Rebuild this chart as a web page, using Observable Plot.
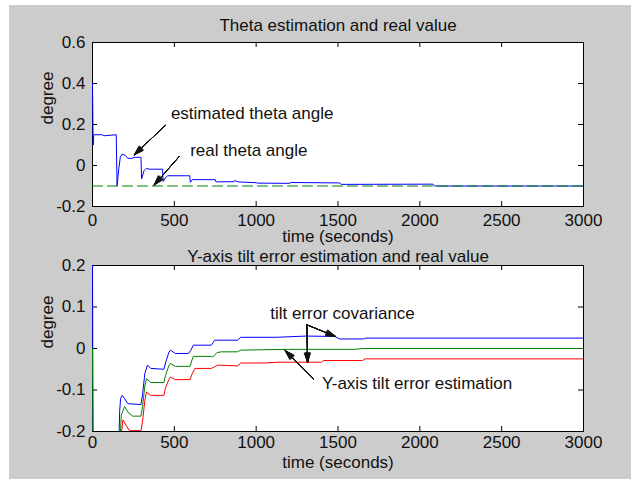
<!DOCTYPE html>
<html>
<head>
<meta charset="utf-8">
<script src="https://cdn.jsdelivr.net/npm/d3@7"></script>
<script src="https://cdn.jsdelivr.net/npm/@observablehq/plot@0.6"></script>
<style>
  html, body { margin: 0; padding: 0; background: #ffffff; }
  #figure { position: relative; width: 631px; height: 479px; background: #ffffff; overflow: hidden; }
  #panel { position: absolute; left: 9px; top: 5px; width: 622px; height: 474px; background: #cccccc; }
  .ax { position: absolute; left: 0; }
  .ax svg { overflow: visible; }
</style>
</head>
<body>
<div id="figure">
  <div id="panel"></div>
  <div id="top" class="ax" style="top:0px"></div>
  <div id="bottom" class="ax" style="top:235px"></div>
</div>
<script>
// ---- axis ticks ----
const timeTicks = [0, 500, 1000, 1500, 2000, 2500, 3000];
const thetaTicks = [-0.2, 0, 0.2, 0.4, 0.6];
const tiltTicks = [-0.2, -0.1, 0, 0.1, 0.2];

// ---- theta: estimate (solid) and true value (dashed) ----
const thetaEstTime = [0, 4, 8, 60, 70, 145, 150, 160, 170, 180, 200, 215, 240, 260, 296, 300, 315, 330, 345, 428, 432, 445, 460, 594, 598, 610, 750, 755, 860, 870, 890, 1000, 1010, 1200, 1215, 1510, 1520, 2080, 2090, 3000];
const thetaEstDeg  = [0.40, 0.10, 0.15, 0.15, 0.145, 0.15, -0.10, -0.02, 0.04, 0.055, 0.05, 0.035, 0.035, 0.04, 0.04, -0.065, -0.025, -0.013, -0.018, -0.018, -0.078, -0.06, -0.05, -0.05, -0.082, -0.069, -0.069, -0.08, -0.079, -0.074, -0.08, -0.084, -0.086, -0.087, -0.083, -0.085, -0.092, -0.091, -0.10, -0.10];
const thetaRealTime = [0, 3000];
const thetaRealDeg  = [-0.1, -0.1];

// ---- Y-axis tilt error: estimate and covariance bounds ----
const covUpperTime = [0, 3, 160, 166, 172, 182, 195, 216, 296, 306, 320, 336, 356, 436, 446, 466, 476, 506, 586, 600, 616, 726, 746, 886, 906, 1126, 1305, 1480, 1510, 1655, 1670, 3000];
const covUpperDeg  = [0.25, -0.25, -0.25, -0.15, -0.12, -0.113, -0.12, -0.133, -0.135, -0.11, -0.06, -0.04, -0.048, -0.05, -0.035, -0.01, -0.004, -0.012, -0.012, -0.005, 0.008, 0.008, 0.02, 0.02, 0.027, 0.027, 0.03, 0.029, 0.023, 0.023, 0.025, 0.025];

const tiltEstTime = [0, 3, 165, 176, 196, 220, 246, 296, 306, 320, 330, 356, 436, 446, 466, 476, 506, 596, 606, 616, 726, 736, 760, 786, 886, 906, 1046, 1200, 1600, 1655, 3000];
const tiltEstDeg  = [0.0, -0.25, -0.25, -0.16, -0.14, -0.155, -0.163, -0.163, -0.14, -0.09, -0.073, -0.082, -0.082, -0.065, -0.042, -0.036, -0.043, -0.043, -0.03, -0.019, -0.019, -0.02, -0.01, -0.008, -0.008, -0.004, -0.003, -0.002, -0.002, 0.0, 0.0];

const covLowerTime = [0, 170, 178, 186, 205, 226, 296, 306, 320, 330, 356, 436, 446, 466, 476, 506, 596, 610, 626, 726, 746, 766, 886, 906, 1046, 1140, 1400, 1410, 1650, 1665, 3000];
const covLowerDeg  = [-0.25, -0.25, -0.2, -0.172, -0.185, -0.198, -0.198, -0.175, -0.125, -0.105, -0.113, -0.113, -0.095, -0.075, -0.069, -0.075, -0.075, -0.06, -0.048, -0.048, -0.044, -0.04, -0.042, -0.035, -0.035, -0.033, -0.033, -0.029, -0.029, -0.025, -0.025];

const zip = (ts, vs) => ts.map((t, i) => ({t, v: vs[i]}));
const fmt = d => (d === 0 ? "0" : String(d));

const W = 631;
const textStyle = {
  fontFamily: "'Liberation Sans', Arial, Helvetica, sans-serif",
  fontSize: "17px",
  color: "#111111",
  background: "transparent",
  overflow: "visible"
};

// Arrow with a solid-looking head: a fan of thin arrowheads
function pointer(a) {
  return [6, 12, 18, 24, 30, 36].map(angle =>
    Plot.arrow([a], {x1: "x1", y1: "y1", x2: "x2", y2: "y2", stroke: "#111", strokeWidth: 1, headLength: 15, headAngle: angle})
  );
}

// Inward MATLAB-style ticks on all four sides
function boxTicks(xt, yt, fw, fh) {
  const len = 5;
  return [
    Plot.tickX(xt, {x: d => d, insetTop: fh - len, stroke: "#000"}),
    Plot.tickX(xt, {x: d => d, insetBottom: fh - len, stroke: "#000"}),
    Plot.tickY(yt, {y: d => d, insetRight: fw - len, stroke: "#000"}),
    Plot.tickY(yt, {y: d => d, insetLeft: fw - len, stroke: "#000"})
  ];
}

function axes(title, titleDy, xlabelDy) {
  return [
    Plot.text([title], {text: d => d, frameAnchor: "top", dy: titleDy, fill: "#111"}),
    Plot.text(["time (seconds)"], {text: d => d, frameAnchor: "bottom", dy: xlabelDy, fill: "#111"}),
    Plot.text(["degree"], {text: d => d, frameAnchor: "left", dx: -45, rotate: -90, fill: "#111"})
  ];
}

// ---- upper panel ----
{
  const mL = 92, mR = 48, mT = 42, mB = 29, H = 235;
  const fw = W - mL - mR, fh = H - mT - mB;
  const chart = Plot.plot({
    width: W, height: H,
    marginLeft: mL, marginRight: mR, marginTop: mT, marginBottom: mB,
    style: textStyle,
    x: {domain: [0, 3000], ticks: timeTicks, tickFormat: fmt, tickSize: 0, tickPadding: 7, label: null},
    y: {domain: [-0.2, 0.6], ticks: thetaTicks, tickFormat: fmt, tickSize: 0, tickPadding: 7, label: null},
    marks: [
      Plot.frame({fill: "#ffffff", stroke: "#000"}),
      ...boxTicks(timeTicks, thetaTicks, fw, fh),
      Plot.line(zip(thetaEstTime, thetaEstDeg), {x: "t", y: "v", stroke: "#0000ff", strokeWidth: 1}),
      Plot.line(zip(thetaRealTime, thetaRealDeg), {x: "t", y: "v", stroke: "#008000", strokeWidth: 1, strokeDasharray: "10,5"}),
      Plot.text(["estimated theta angle"], {text: d => d, x: 479, y: 0.254, textAnchor: "start", fill: "#111"}),
      ...pointer({x1: 444, y1: 0.195, x2: 255, y2: 0.052}),
      Plot.text(["real theta angle"], {text: d => d, x: 597, y: 0.073, textAnchor: "start", fill: "#111"}),
      ...pointer({x1: 530, y1: 0.044, x2: 377, y2: -0.095}),
      ...axes("Theta estimation and real value", -24, 35)
    ]
  });
  document.getElementById("top").appendChild(chart);
}

// ---- lower panel ----
{
  const mL = 92, mR = 48, mT = 30, mB = 48, H = 244;
  const fw = W - mL - mR, fh = H - mT - mB;
  const chart = Plot.plot({
    width: W, height: H,
    marginLeft: mL, marginRight: mR, marginTop: mT, marginBottom: mB,
    style: textStyle,
    x: {domain: [0, 3000], ticks: timeTicks, tickFormat: fmt, tickSize: 0, tickPadding: 4, label: null},
    y: {domain: [-0.2, 0.2], ticks: tiltTicks, tickFormat: fmt, tickSize: 0, tickPadding: 7, label: null},
    marks: [
      Plot.frame({fill: "#ffffff", stroke: "#000"}),
      ...boxTicks(timeTicks, tiltTicks, fw, fh),
      Plot.line(zip(covUpperTime, covUpperDeg), {x: "t", y: "v", stroke: "#0000ff", strokeWidth: 1, clip: true}),
      Plot.line(zip(tiltEstTime, tiltEstDeg), {x: "t", y: "v", stroke: "#008000", strokeWidth: 1, clip: true}),
      Plot.line(zip(covLowerTime, covLowerDeg), {x: "t", y: "v", stroke: "#ff0000", strokeWidth: 1, clip: true}),
      Plot.text(["tilt error covariance"], {text: d => d, x: 1086, y: 0.084, textAnchor: "start", fill: "#111"}),
      ...pointer({x1: 1310, y1: 0.057, x2: 1485, y2: 0.029}),
      ...pointer({x1: 1310, y1: 0.057, x2: 1314, y2: -0.034}),
      Plot.text(["Y-axis tilt error estimation"], {text: d => d, x: 1402, y: -0.084, textAnchor: "start", fill: "#111"}),
      ...pointer({x1: 1350, y1: -0.073, x2: 1177, y2: -0.005}),
      ...axes("Y-axis tilt error estimation and real value", -16, 36)
    ]
  });
  document.getElementById("bottom").appendChild(chart);
}
</script>
</body>
</html>
